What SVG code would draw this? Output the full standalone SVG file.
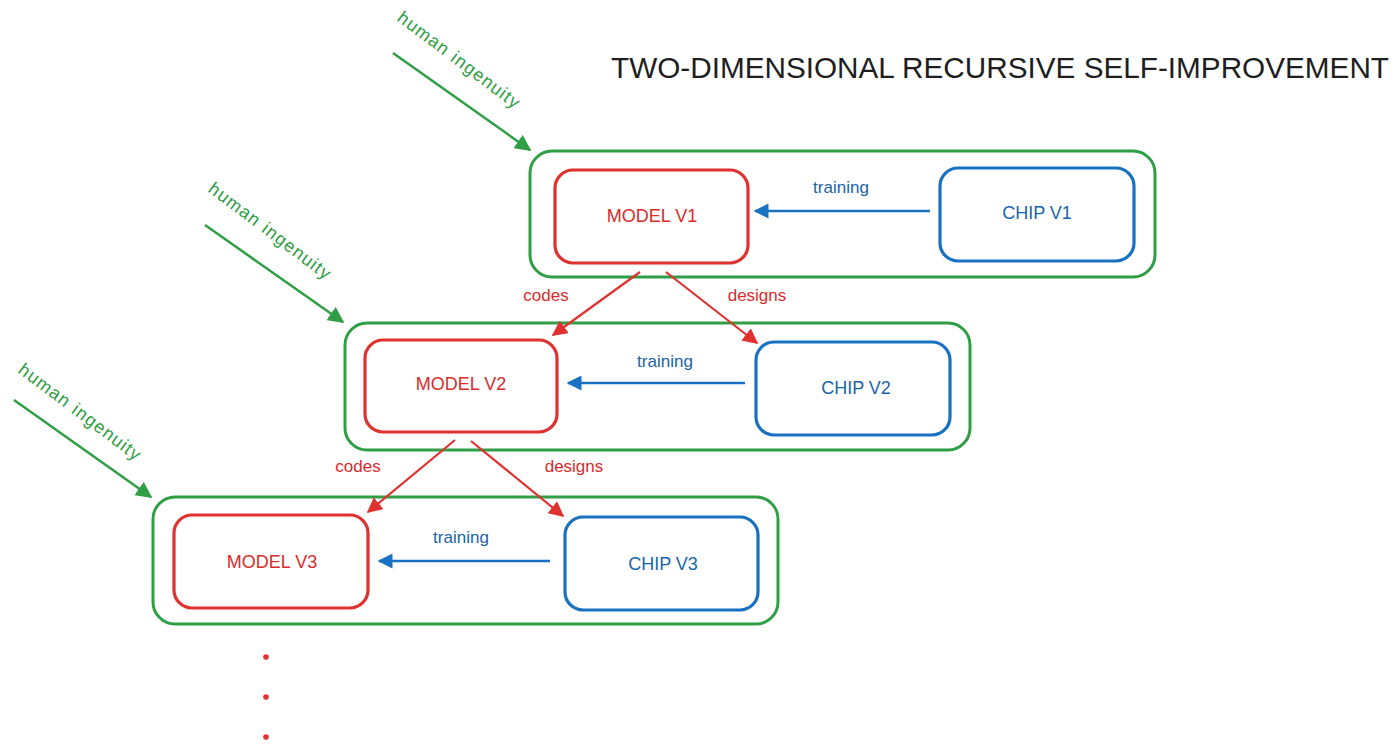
<svg xmlns="http://www.w3.org/2000/svg" width="1400" height="748" viewBox="0 0 1400 748">
<defs>
<style>
.grp{fill:none;stroke:#2f9e44;stroke-width:3}
.model{fill:none;stroke:#e03131;stroke-width:3.2}
.chip{fill:none;stroke:#1971c2;stroke-width:3.2}
.t{font-family:"Liberation Sans",Arial,sans-serif}
.mt{fill:#d92b2b;font-size:18px;text-anchor:middle}
.ct{fill:#1864ab;font-size:18px;text-anchor:middle}
.tr{fill:#1864ab;font-size:17px;text-anchor:middle}
.rl{fill:#d92b2b;font-size:17px;text-anchor:middle}
.hi{fill:#2f9e44;font-size:18px}
.bl{stroke:#1971c2;stroke-width:2.5;fill:none}
.rd{stroke:#e03131;stroke-width:2.2;fill:none}
.gn{stroke:#2f9e44;stroke-width:2.5;fill:none}
</style>
<marker id="ab" viewBox="0 0 10 10" refX="9" refY="5" markerWidth="6" markerHeight="6" orient="auto" markerUnits="strokeWidth"><path d="M0,0 L10,5 L0,10 z" fill="#1971c2"/></marker>
<marker id="ar" viewBox="0 0 10 10" refX="9" refY="5" markerWidth="7" markerHeight="7" orient="auto" markerUnits="strokeWidth"><path d="M0,0 L10,5 L0,10 z" fill="#e03131"/></marker>
<marker id="ag" viewBox="0 0 10 10" refX="9" refY="5" markerWidth="6.5" markerHeight="6.5" orient="auto" markerUnits="strokeWidth"><path d="M0,0 L10,5 L0,10 z" fill="#2f9e44"/></marker>
</defs>
<rect width="1400" height="748" fill="#ffffff"/>
<text class="t" x="611" y="78" font-size="29" fill="#1e1e1e" textLength="778" lengthAdjust="spacingAndGlyphs">TWO-DIMENSIONAL RECURSIVE SELF-IMPROVEMENT</text>

<g id="group1">
<rect class="grp" x="530" y="151" width="625" height="126" rx="22"/>
</g>
<g id="model1"><rect class="model" x="555" y="170" width="193" height="93" rx="18"/><text class="t mt" x="652" y="222">MODEL V1</text></g>
<g id="chip1"><rect class="chip" x="940" y="168" width="194" height="93" rx="18"/><text class="t ct" x="1037" y="219">CHIP V1</text></g>

<g id="group2">
<rect class="grp" x="345" y="323" width="625" height="127" rx="22"/>
</g>
<g id="model2"><rect class="model" x="365" y="340" width="192" height="92" rx="18"/><text class="t mt" x="461" y="390">MODEL V2</text></g>
<g id="chip2"><rect class="chip" x="756" y="342" width="194" height="93" rx="18"/><text class="t ct" x="856" y="394">CHIP V2</text></g>

<g id="group3">
<rect class="grp" x="153" y="497" width="625" height="127" rx="22"/>
</g>
<g id="model3"><rect class="model" x="174" y="515" width="194" height="93" rx="18"/><text class="t mt" x="272" y="568">MODEL V3</text></g>
<g id="chip3"><rect class="chip" x="565" y="517" width="193" height="93" rx="18"/><text class="t ct" x="663" y="570">CHIP V3</text></g>

<g id="connectors">
<line class="bl" x1="930" y1="211" x2="755" y2="211" marker-end="url(#ab)"/>
<text class="t tr" x="841" y="193">training</text>
<line class="bl" x1="745" y1="383" x2="568" y2="383" marker-end="url(#ab)"/>
<text class="t tr" x="665" y="367">training</text>
<line class="bl" x1="550" y1="561" x2="379" y2="561" marker-end="url(#ab)"/>
<text class="t tr" x="461" y="543">training</text>

<line class="rd" x1="640" y1="272" x2="553" y2="335" marker-end="url(#ar)"/>
<line class="rd" x1="666" y1="272" x2="757" y2="343" marker-end="url(#ar)"/>
<text class="t rl" x="546" y="301">codes</text>
<text class="t rl" x="757" y="301">designs</text>
<line class="rd" x1="455" y1="440" x2="368" y2="512" marker-end="url(#ar)"/>
<line class="rd" x1="471" y1="441" x2="563" y2="516" marker-end="url(#ar)"/>
<text class="t rl" x="358" y="472">codes</text>
<text class="t rl" x="574" y="472">designs</text>

<line class="gn" x1="393" y1="53" x2="530" y2="150" marker-end="url(#ag)"/>
<text class="t hi" transform="translate(396,20) rotate(37)" textLength="148">human ingenuity</text>
<line class="gn" x1="205" y1="225" x2="343" y2="322" marker-end="url(#ag)"/>
<text class="t hi" transform="translate(207,191) rotate(37)" textLength="148">human ingenuity</text>
<line class="gn" x1="14" y1="400" x2="151" y2="497" marker-end="url(#ag)"/>
<text class="t hi" transform="translate(17,372) rotate(37)" textLength="148">human ingenuity</text>

<circle cx="266" cy="657" r="2.8" fill="#e03131"/>
<circle cx="266" cy="697" r="2.8" fill="#e03131"/>
<circle cx="266" cy="737" r="2.8" fill="#e03131"/>
</g>
</svg>
